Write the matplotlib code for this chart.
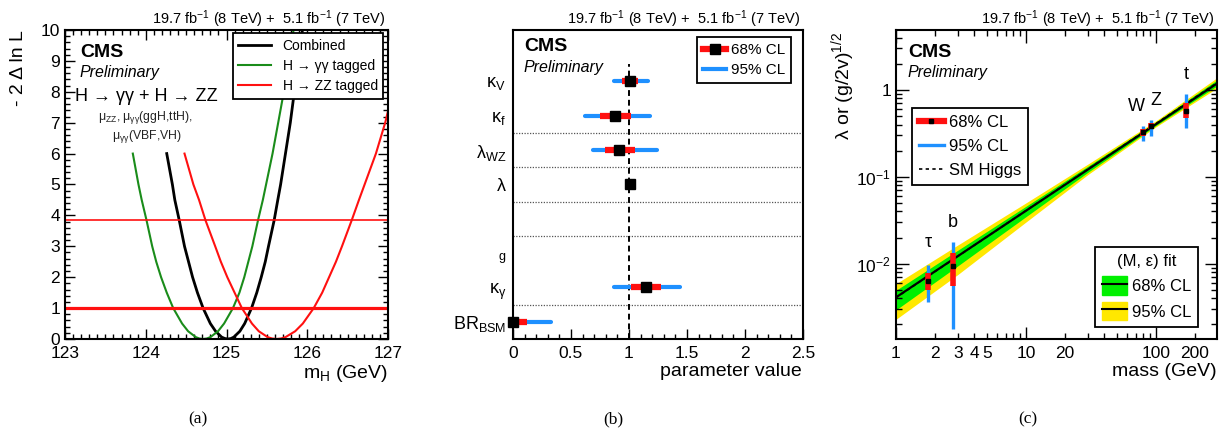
import numpy as np
import matplotlib
matplotlib.use('Agg')
import matplotlib.pyplot as plt
from matplotlib.ticker import MultipleLocator, FixedLocator, FuncFormatter, NullFormatter, LogLocator
from matplotlib.patches import Patch
from matplotlib.lines import Line2D

plt.rcParams['font.family'] = ['Liberation Sans', 'DejaVu Sans']
plt.rcParams['mathtext.fontset'] = 'custom'
plt.rcParams['mathtext.rm'] = 'Liberation Sans'
plt.rcParams['mathtext.it'] = 'Liberation Sans:italic'
plt.rcParams['mathtext.bf'] = 'Liberation Sans:bold'
plt.rcParams['mathtext.default'] = 'regular'

# --- (a) likelihood scans
scan_levels = [6.0, 5.0, 4.5, 3.84, 3.0, 2.5, 2.0, 1.5, 1.0, 0.5, 0.25, 0.06, 0.015, 0.0,
               0.015, 0.06, 0.25, 0.5, 1.0, 1.5, 2.0, 2.5, 3.0, 3.84, 4.5, 5.0, 6.0, 7.0, 8.0, 9.0, 10.0]
comb_m = [124.26, 124.33, 124.36, 124.415, 124.48, 124.53, 124.58, 124.64, 124.71, 124.80, 124.865,
          124.94, 124.98, 125.02, 125.055, 125.09, 125.165, 125.225, 125.31, 125.375, 125.43,
          125.48, 125.52, 125.59, 125.635, 125.67, 125.73, 125.79, 125.84, 125.89, 125.94]
comb_nll = scan_levels
gg_m = [123.84, 123.91, 123.95, 124.01, 124.08, 124.13, 124.19, 124.26, 124.34, 124.45, 124.525,
        124.62, 124.665, 124.71, 124.755, 124.80, 124.895, 124.97, 125.08, 125.16, 125.22,
        125.27, 125.32, 125.39, 125.45, 125.49, 125.57, 125.64, 125.71, 125.77, 125.83]
gg_nll = scan_levels
zz_m = [124.48, 124.59, 124.66, 124.74, 124.86, 124.93, 125.01, 125.10, 125.19, 125.315, 125.40,
        125.51, 125.565, 125.62, 125.675, 125.73, 125.85, 125.945, 126.08, 126.185, 126.27,
        126.355, 126.43, 126.55, 126.64, 126.71, 126.85, 126.965, 127.0]
zz_nll = scan_levels[:28] + [7.38]
cl_levels = [1.0, 3.84]

# --- (b) coupling fit results
par_labels = ['κ$_V$', 'κ$_f$', 'λ$_{WZ}$', 'λ', '', '$_g$', 'κ$_γ$', 'BR$_{BSM}$']
nan = np.nan
par_best = [1.01, 0.88, 0.91, 1.01, nan, nan, 1.145, 0.0]
par_lo68 = [0.94, 0.75, 0.79, nan, nan, nan, 1.02, 0.0]
par_hi68 = [1.08, 1.02, 1.05, nan, nan, nan, 1.28, 0.123]
par_lo95 = [0.87, 0.62, 0.69, nan, nan, nan, 0.873, 0.0]
par_hi95 = [1.16, 1.18, 1.24, nan, nan, nan, 1.44, 0.328]
separators = [6.5, 5.5, 4.5, 3.5, 1.5]
sm_ref = 1.0

# --- (c) mass vs coupling
part_names = ['τ', 'b', 'W', 'Z', 't']
part_mass = [1.777, 2.73, 80.4, 91.2, 172.5]
part_val = [0.00638, 0.0093, 0.327, 0.386, 0.578]
part_lo68 = [0.00493, 0.00559, 0.296, 0.353, 0.473]
part_hi68 = [0.00782, 0.01327, 0.353, 0.414, 0.715]
part_lo95 = [0.00363, 0.00177, 0.261, 0.296, 0.363]
part_hi95 = [0.00955, 0.0180, 0.389, 0.452, 0.892]
band_mass = [1, 3, 10, 30, 100, 300]
yel_lo = [0.00229, 0.00752, 0.0301, 0.106, 0.375, 1.062]
yel_hi = [0.00588, 0.01644, 0.0500, 0.140, 0.440, 1.40]
grn_lo = [0.00294, 0.00946, 0.0347, 0.1125, 0.388, 1.126]
grn_hi = [0.00494, 0.01432, 0.0457, 0.1322, 0.426, 1.32]
fit_mass = [1, 300]
fit_val = [0.0041, 1.20]
sm_mass = [1, 300]
sm_val = [0.00407, 1.22]

RED = '#ff1010'
BLUE = '#1e90ff'
GREEN = '#1a8c1a'
lumi = '19.7 fb$^{-1}$ (8 TeV) +  5.1 fb$^{-1}$ (7 TeV)'

fig = plt.figure(figsize=(12.26, 4.32), dpi=100)


def frame(ax):
    for s in ax.spines.values():
        s.set_linewidth(1.5)


def cms(ax, x, y1, y2):
    ax.text(x, y1, 'CMS', transform=ax.transAxes, fontsize=14, fontweight='bold', va='center')
    ax.text(x, y2, 'Preliminary', transform=ax.transAxes, fontsize=11.5, style='italic', va='center')
    ax.text(0.99, 1.036, lumi, transform=ax.transAxes, fontsize=10.5, ha='right', va='center')


# ---------------- (a)
ax1 = fig.add_axes([0.0530, 0.2153, 0.2635, 0.7153])
frame(ax1)
l_c, = ax1.plot(comb_m, comb_nll, color='black', lw=2)
l_g, = ax1.plot(gg_m, gg_nll, color=GREEN, lw=1.5)
l_z, = ax1.plot(zz_m, zz_nll, color=RED, lw=1.5)
ax1.axhline(cl_levels[0], color=RED, lw=2.3)
ax1.axhline(cl_levels[1], color=RED, lw=1.2)
ax1.set_xlim(123, 127)
ax1.set_ylim(0, 10)
ax1.xaxis.set_major_locator(MultipleLocator(1))
ax1.xaxis.set_minor_locator(MultipleLocator(0.1))
ax1.yaxis.set_major_locator(MultipleLocator(1))
ax1.yaxis.set_minor_locator(MultipleLocator(0.2))
ax1.tick_params(which='both', direction='in', top=True, right=True, labelsize=12.5, width=1)
ax1.tick_params(which='major', length=7)
ax1.tick_params(which='minor', length=3.5)
ax1.tick_params(axis='x', pad=5)
ax1.set_xlabel('m$_H$ (GeV)', fontsize=14, loc='right')
ax1.xaxis.set_label_coords(1.0, -0.078)
ax1.set_ylabel('- 2 Δ ln L', fontsize=14, loc='top')
ax1.yaxis.set_label_coords(-0.118, 1.0)
leg = ax1.legend([l_c, l_g, l_z], ['Combined', 'H → γγ tagged', 'H → ZZ tagged'],
                 loc='upper right', bbox_to_anchor=(0.985, 0.99), borderaxespad=0,
                 fontsize=10, fancybox=False, edgecolor='black', framealpha=1,
                 handlelength=2.4, labelspacing=0.45)
leg.get_frame().set_linewidth(1.3)
leg.set_zorder(10)
cms(ax1, 0.046, 0.926, 0.861)
ax1.text(0.031, 0.786, 'H → γγ + H → ZZ', transform=ax1.transAxes, fontsize=13, va='center')
ax1.text(0.102, 0.718, '$\\mu_{ZZ}$, $\\mu_{\\gamma\\gamma}$(ggH,ttH),', transform=ax1.transAxes,
         fontsize=8.8, va='center', color='#222222')
ax1.text(0.145, 0.654, '$\\mu_{\\gamma\\gamma}$(VBF,VH)', transform=ax1.transAxes,
         fontsize=8.8, va='center', color='#222222')

# ---------------- (b)
ax2 = fig.add_axes([0.4184, 0.2153, 0.2366, 0.7153])
frame(ax2)
rows = np.arange(len(par_labels), 0, -1)
for y in separators:
    ax2.axhline(y, color='#555555', lw=0.9, ls=(0, (1, 1.2)))
ax2.vlines(sm_ref, 0.5, 8.5, colors='black', linestyles=(0, (3, 2)), lw=1.4, zorder=2)
hb = ax2.hlines(rows, par_lo95, par_hi95, colors=BLUE, lw=3, zorder=3)
hb.set_capstyle('round')
ax2.hlines(rows, par_lo68, par_hi68, colors=RED, lw=4.5, zorder=4)
ax2.plot(par_best, rows, 's', color='black', ms=7.5, zorder=5, clip_on=False)
ax2.set_xlim(0, 2.5)
ax2.set_ylim(0.5, 9.5)
ax2.set_yticks(rows)
ax2.set_yticklabels(par_labels)
ax2.tick_params(axis='y', length=0, pad=5, labelsize=13)
ax2.xaxis.set_major_locator(MultipleLocator(0.5))
ax2.xaxis.set_minor_locator(MultipleLocator(0.1))
ax2.xaxis.set_major_formatter(FuncFormatter(lambda v, p: '%g' % v))
ax2.tick_params(axis='x', which='both', direction='in', labelsize=12.5, width=1, pad=5)
ax2.tick_params(axis='x', which='major', length=7)
ax2.tick_params(axis='x', which='minor', length=3.5)
ax2.set_xlabel('parameter value', fontsize=14, loc='right')
ax2.xaxis.set_label_coords(0.995, -0.078)
h68 = (Line2D([], [], color=RED, lw=4.5), Line2D([], [], marker='s', color='black', ls='none', ms=7.5))
h95 = Line2D([], [], color=BLUE, lw=3)
leg = ax2.legend([h68, h95], ['68% CL', '95% CL'], loc='upper right', bbox_to_anchor=(0.959, 0.977),
                 borderaxespad=0, fontsize=11, fancybox=False, edgecolor='black', framealpha=1,
                 handlelength=1.5, handletextpad=0.3, labelspacing=0.4)
leg.get_frame().set_linewidth(1.3)
cms(ax2, 0.038, 0.945, 0.880)

# ---------------- (c)
ax3 = fig.add_axes([0.7308, 0.2153, 0.2618, 0.7153])
frame(ax3)
ax3.set_xscale('log')
ax3.set_yscale('log')
ax3.fill_between(band_mass, yel_lo, yel_hi, color='#ffe800', lw=0)
ax3.fill_between(band_mass, grn_lo, grn_hi, color='#00f000', lw=0)
ax3.plot(fit_mass, fit_val, color='black', lw=1.6)
ax3.plot(sm_mass, sm_val, color='black', lw=1.2, ls=(0, (2, 2)))
ax3.vlines(part_mass, part_lo95, part_hi95, colors=BLUE, lw=2.4, zorder=3)
ax3.vlines(part_mass, part_lo68, part_hi68, colors=RED, lw=4, zorder=4)
ax3.plot(part_mass, part_val, 's', color='black', ms=3.5, zorder=5)
offsets = [(0, 14), (0, 11), (-7, 11), (5, 11), (0, 11)]
for name, m, top, off in zip(part_names, part_mass, part_hi95, offsets):
    ax3.annotate(name, (m, top), xytext=off, textcoords='offset pixels',
                 ha='center', va='bottom', fontsize=13)
ax3.set_xlim(1, 296)
ax3.set_ylim(1.36e-3, 4.9)
ax3.xaxis.set_major_locator(FixedLocator([1, 10, 100]))
ax3.xaxis.set_major_formatter(FuncFormatter(lambda v, p: '%g' % v))
ax3.xaxis.set_minor_locator(LogLocator(base=10, subs=np.arange(2, 10)))
ax3.xaxis.set_minor_formatter(FuncFormatter(
    lambda v, p: '%d' % round(v) if int(round(v)) in (2, 3, 4, 5, 20, 200) else ''))
ax3.yaxis.set_major_locator(FixedLocator([0.01, 0.1, 1]))
ax3.yaxis.set_major_formatter(FuncFormatter(
    lambda v, p: '1' if v == 1 else '10$^{%d}$' % round(np.log10(v))))
ax3.yaxis.set_minor_locator(LogLocator(base=10, subs=np.arange(2, 10)))
ax3.yaxis.set_minor_formatter(NullFormatter())
ax3.tick_params(which='both', direction='in', top=True, right=True, labelsize=12.5, width=1)
ax3.tick_params(which='major', length=9)
ax3.tick_params(which='minor', length=4.5)
ax3.tick_params(axis='x', which='both', pad=5)
ax3.set_xlabel('mass (GeV)', fontsize=14, loc='right')
ax3.xaxis.set_label_coords(1.0, -0.078)
ax3.set_ylabel('λ or (g/2v)$^{1/2}$', fontsize=14, loc='top')
ax3.yaxis.set_label_coords(-0.121, 0.995)
h68 = (Line2D([], [], color=RED, lw=4.5), Line2D([], [], marker='s', color='black', ls='none', ms=3.5))
h95 = Line2D([], [], color=BLUE, lw=2.4)
hsm = Line2D([], [], color='black', lw=1.2, ls=(0, (2, 2)))
leg1 = ax3.legend([h68, h95, hsm], ['68% CL', '95% CL', 'SM Higgs'], loc='upper left',
                  bbox_to_anchor=(0.05, 0.748), borderaxespad=0, fontsize=12, fancybox=False,
                  edgecolor='black', framealpha=1, handlelength=1.5, handletextpad=0.3,
                  labelspacing=0.55)
leg1.get_frame().set_linewidth(1.3)
ax3.add_artist(leg1)
hg = (Patch(color='#00f000'), Line2D([], [], color='black', lw=1.5))
hy = (Patch(color='#ffe800'), Line2D([], [], color='black', lw=1.5))
leg2 = ax3.legend([hg, hy], ['68% CL', '95% CL'], title='(M, ε) fit', title_fontsize=12,
                  loc='lower right', bbox_to_anchor=(0.941, 0.039), borderaxespad=0, fontsize=12,
                  fancybox=False, edgecolor='black', framealpha=1, handlelength=1.5,
                  handleheight=1.3, handletextpad=0.3, labelspacing=0.45)
leg2.get_frame().set_linewidth(1.3)
cms(ax3, 0.037, 0.926, 0.861)

# panel letters
for x, s in [(198, '(a)'), (613, '(b)'), (1028, '(c)')]:
    fig.text(x / 1226, 1 - 419 / 432, s, family=['Liberation Serif', 'DejaVu Serif'],
             fontsize=12.5, ha='center', va='center')

fig.savefig('out.png', dpi=100)
